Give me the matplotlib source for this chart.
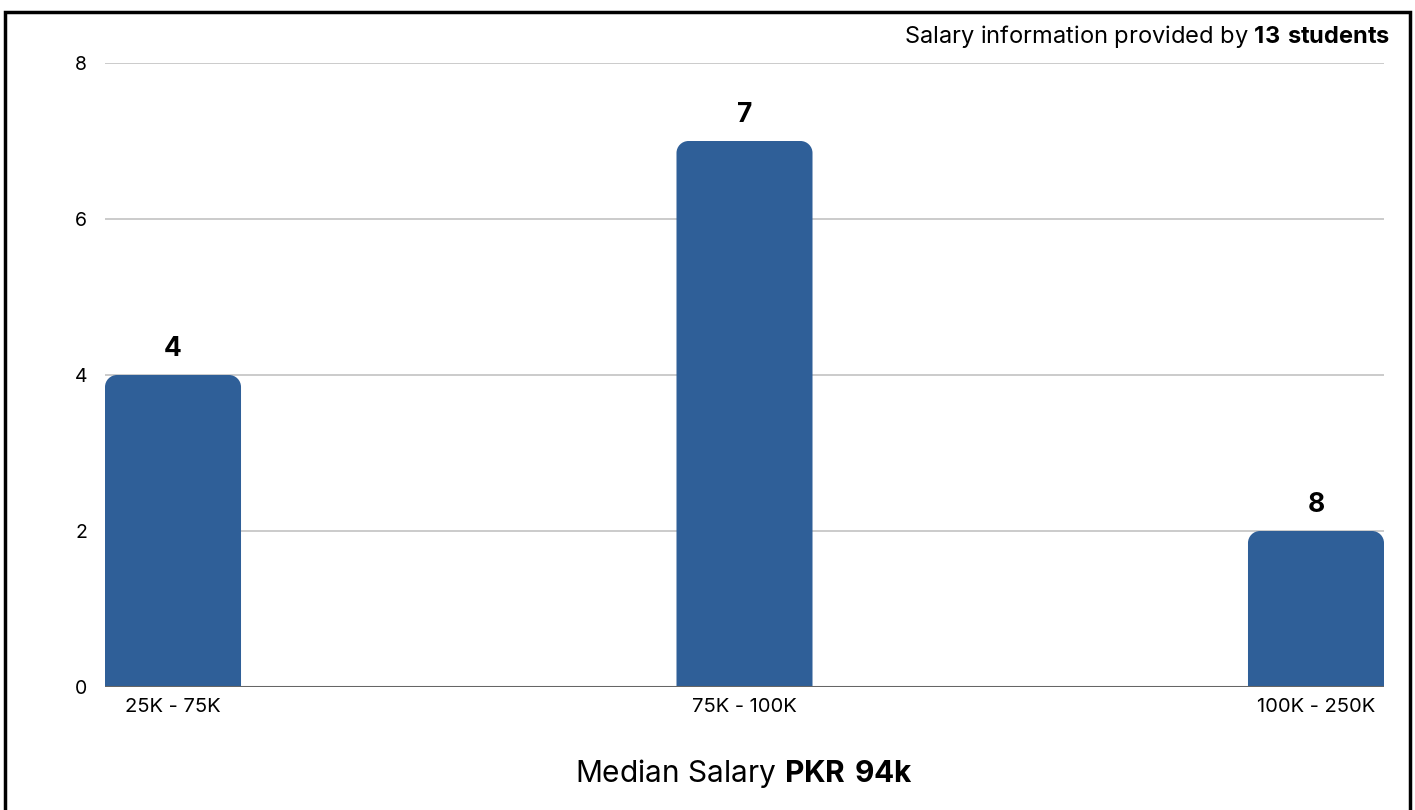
import matplotlib
matplotlib.use("Agg")
import matplotlib.pyplot as plt
from matplotlib.path import Path
from matplotlib.patches import PathPatch, Rectangle

categories = ["25K - 75K", "75K - 100K", "100K - 250K"]
counts = [4, 7, 2]
bar_labels = ["4", "7", "8"]
yticks = [0, 2, 4, 6, 8]

plt.rcParams['font.family'] = ['Inter', 'DejaVu Sans']
plt.rcParams['mathtext.fontset'] = 'custom'
plt.rcParams['mathtext.rm'] = 'Inter'
plt.rcParams['mathtext.bf'] = 'Inter:bold'

W, H = 1415, 810
fig = plt.figure(figsize=(W/100, H/100), dpi=100)
ax = fig.add_axes([105/W, 1-687/H, (1384-105)/W, (687-63)/H])

bar_w = 0.238
color = "#2F5F98"
x = list(range(len(categories)))
bars = ax.bar(x, counts, width=bar_w, color=color, zorder=2)
ax.set_xlim(-bar_w/2, len(categories)-1+bar_w/2)
ax.set_ylim(0, 8)

# rounded top corners
fig.canvas.draw()
ax_w_px = ax.bbox.width
ax_h_px = ax.bbox.height
xr = ax.get_xlim()[1]-ax.get_xlim()[0]
yr = ax.get_ylim()[1]-ax.get_ylim()[0]
r_px = 12
rx = r_px*xr/ax_w_px
ry = r_px*yr/ax_h_px
k = 0.5523
for b in bars:
    b.set_visible(False)
    x0 = b.get_x(); x1 = x0+b.get_width(); h = b.get_height()
    verts = [(x0, 0), (x1, 0), (x1, h-ry),
             (x1, h-ry+k*ry), (x1-rx+k*rx, h), (x1-rx, h),
             (x0+rx, h),
             (x0+rx-k*rx, h), (x0, h-ry+k*ry), (x0, h-ry),
             (x0, 0)]
    codes = [Path.MOVETO, Path.LINETO, Path.LINETO,
             Path.CURVE4, Path.CURVE4, Path.CURVE4,
             Path.LINETO,
             Path.CURVE4, Path.CURVE4, Path.CURVE4,
             Path.CLOSEPOLY]
    ax.add_patch(PathPatch(Path(verts, codes), facecolor=color, edgecolor='none', zorder=2))

for xi, v, lab in zip(x, counts, bar_labels):
    ax.annotate(lab, (xi, v), xytext=(0, 9), textcoords='offset points',
                ha='center', va='bottom', fontsize=19, fontweight='bold', color='black')

ax.set_yticks(yticks)
ax.set_yticklabels([str(t) for t in yticks], fontsize=14)
ax.set_xticks(x)
ax.set_xticklabels(categories, fontsize=14.5)
ax.tick_params(axis='both', length=0)
ax.tick_params(axis='y', pad=13)
ax.tick_params(axis='x', pad=8)
for t in yticks[1:]:
    ax.axhline(t, color='#BDBDBD', lw=1.1, zorder=1)
ax.axhline(0, color='#666666', lw=2.2, zorder=3)
for s in ax.spines.values():
    s.set_visible(False)

fig.text(744/W, 1-773/H, "Median Salary $\\bf{PKR\\ 94k}$", ha='center', va='center', fontsize=21.5)
fig.text(1390/W, 1-37/H, "Salary information provided by $\\bf{13\\ students}$", ha='right', va='center', fontsize=17)

fig.patches.append(Rectangle((5/W, -0.05), (1410-5)/W, (1-12/H)+0.05, transform=fig.transFigure,
                             fill=False, edgecolor='black', lw=2.5, zorder=10))

fig.savefig("out.png", dpi=100)
